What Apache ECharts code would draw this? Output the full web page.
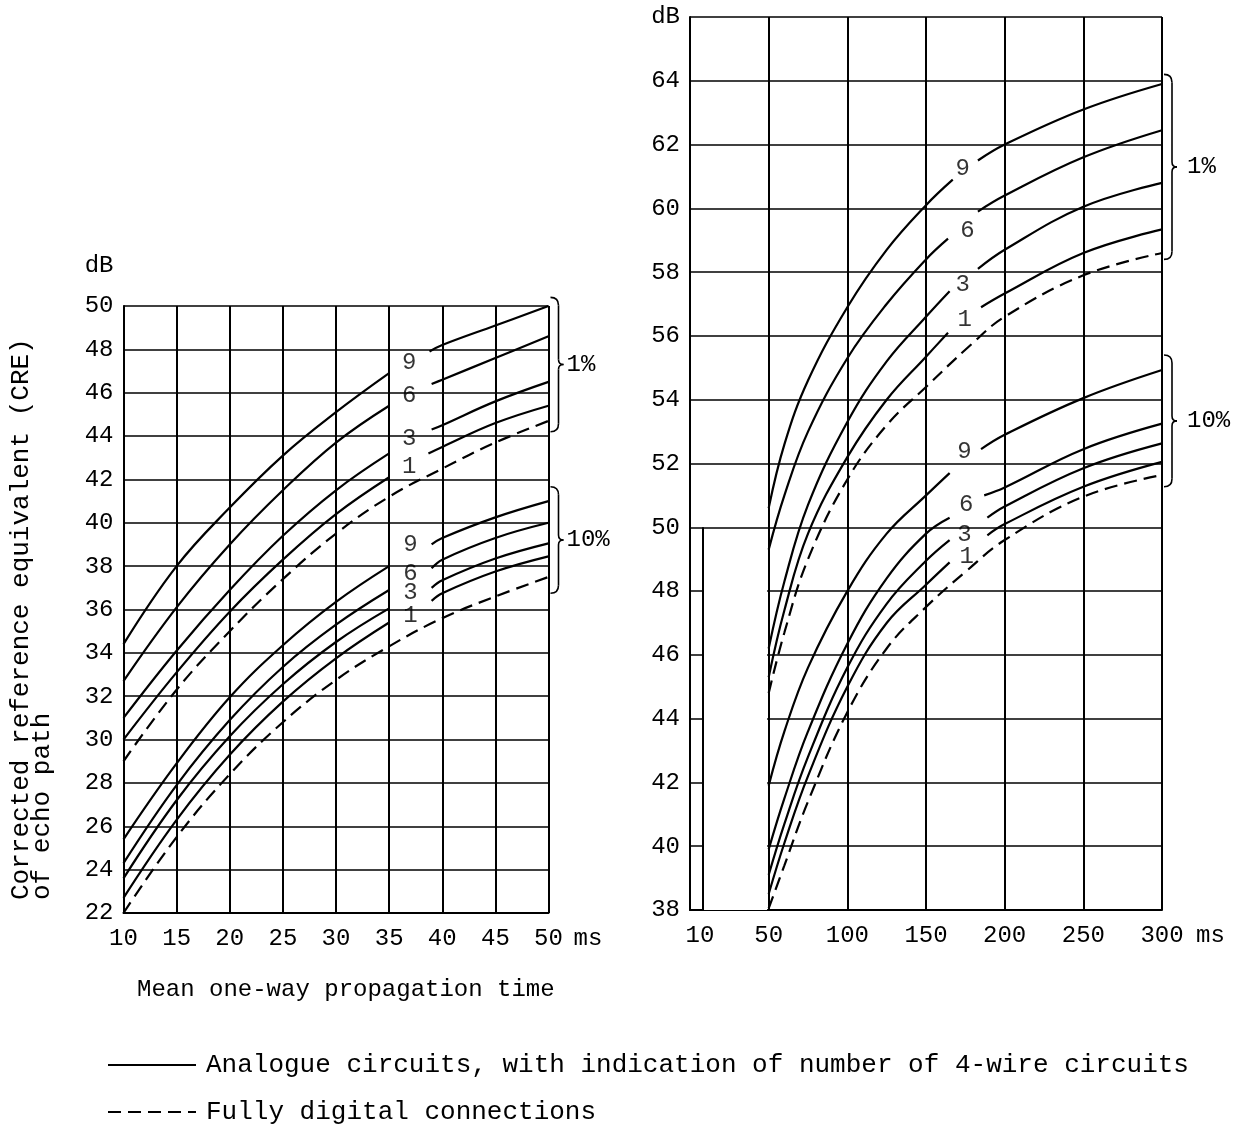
<!DOCTYPE html>
<html>
<head>
<meta charset="utf-8">
<script src="https://cdn.jsdelivr.net/npm/echarts@6/dist/echarts.min.js"></script>
<style>
  html, body { margin: 0; padding: 0; background: #fff; }
  #chart { width: 1243px; height: 1124px; }
</style>
</head>
<body>
<div id="chart"></div>
<script>
var FONT = 'Liberation Mono';
var ANALOG = 'Analogue circuits, with indication of number of 4-wire circuits';
var DIGITAL = 'Fully digital connections';

// ---- left panel (10..50 ms), curves split where the number is written ----
// 1 % group
var l1_9a = [[10,34.4],[15,38.0],[20,40.7],[25,43.1],[30,45.1],[35,46.9]];
var l1_9b = [[38.8,47.9],[40,48.2],[45,49.1],[50,50.0]];
var l1_6a = [[10,32.7],[15,36.1],[20,39.0],[25,41.5],[30,43.7],[35,45.4]];
var l1_6b = [[39,46.4],[40,46.6],[45,47.6],[50,48.6]];
var l1_3a = [[10,31.0],[15,34.1],[20,36.9],[25,39.4],[30,41.5],[35,43.2]];
var l1_3b = [[39,44.3],[40,44.5],[45,45.6],[50,46.5]];
var l1_1a = [[10,30.0],[15,33.1],[20,35.9],[25,38.3],[30,40.4],[35,42.1]];
var l1_1b = [[38.7,43.2],[40,43.5],[45,44.6],[50,45.4]];
var l1_d  = [[10,29.0],[15,32.3],[20,35.0],[25,37.4],[30,39.5],[35,41.2],[40,42.5],[45,43.7],[50,44.7]];
// 10 % group
var l10_9a = [[10,25.4],[15,28.9],[20,31.95],[25,34.35],[30,36.35],[35,38.0]];
var l10_9b = [[39,39.0],[40,39.3],[45,40.25],[50,41.0]];
var l10_6a = [[10,24.3],[15,27.9],[20,30.9],[25,33.35],[30,35.3],[35,36.9]];
var l10_6b = [[39,37.9],[40,38.3],[45,39.3],[50,40.0]];
var l10_3a = [[10,23.6],[15,27.2],[20,30.15],[25,32.55],[30,34.5],[35,36.05]];
var l10_3b = [[39,37.0],[40,37.35],[45,38.35],[50,39.05]];
var l10_1a = [[10,22.7],[15,26.3],[20,29.3],[25,31.75],[30,33.75],[35,35.4]];
var l10_1b = [[39,36.4],[40,36.75],[45,37.75],[50,38.45]];
var l10_d  = [[10,22.0],[15,25.5],[20,28.4],[25,30.8],[30,32.75],[35,34.3],[40,35.6],[45,36.6],[50,37.5]];
var leftNumbers = [[36.9,47.4,'9'],[36.9,45.85,'6'],[36.9,43.9,'3'],[36.9,42.6,'1'],
                   [37,39.0,'9'],[37,37.67,'6'],[37,36.78,'3'],[37,35.7,'1']];

// ---- right panel (50..300 ms) ----
var r1_9a = [[50,50.6],[60,52.6],[75,54.6],[100,56.9],[125,58.7],[150,60.1],[167,60.9]];
var r1_9b = [[183,61.5],[200,62.0],[250,63.1],[300,63.9]];
var r1_6a = [[50,49.3],[60,51.0],[75,53.0],[100,55.3],[125,57.0],[150,58.4],[164,59.05]];
var r1_6b = [[183,59.9],[200,60.4],[250,61.6],[300,62.45]];
var r1_3a = [[50,46.2],[60,48.3],[75,50.7],[100,53.3],[125,55.2],[150,56.6],[165,57.4]];
var r1_3b = [[183,58.1],[200,58.7],[250,60.05],[300,60.8]];
var r1_1a = [[50,45.3],[60,47.4],[75,49.8],[100,52.2],[125,54.0],[150,55.35],[164,56.1]];
var r1_1b = [[185,56.9],[200,57.33],[250,58.6],[300,59.34]];
var r1_d  = [[50,44.8],[60,46.7],[75,49.0],[100,51.5],[125,53.2],[150,54.4],[178,55.7],[200,56.6],[250,57.9],[300,58.6]];
var r10_9a = [[50,41.9],[60,43.6],[75,45.6],[100,48.0],[125,49.8],[150,51.0],[165,51.7]];
var r10_9b = [[185,52.45],[200,52.9],[250,54.05],[300,54.93]];
var r10_6a = [[50,39.9],[60,41.5],[75,43.6],[100,46.35],[125,48.4],[150,49.8],[165,50.3]];
var r10_6b = [[187,51.0],[200,51.25],[250,52.45],[300,53.25]];
var r10_3a = [[50,39.1],[60,40.7],[75,42.8],[100,45.6],[125,47.6],[150,48.95],[165,49.6]];
var r10_3b = [[189,50.3],[200,50.65],[250,51.85],[300,52.63]];
var r10_1a = [[50,38.5],[60,40.1],[75,42.2],[100,45.0],[125,47.0],[150,48.2],[165,48.9]];
var r10_1b = [[189,49.75],[200,50.1],[250,51.27],[300,52.05]];
var r10_d  = [[50,38.05],[60,39.4],[75,41.4],[100,44.2],[125,46.2],[150,47.5],[175,48.6],[200,49.6],[250,50.96],[300,51.64]];
var rightNumbers = [[173.4,61.25,'9'],[176.4,59.3,'6'],[173.3,57.6,'3'],[174.6,56.5,'1'],
                    [174.5,52.37,'9'],[175.6,50.7,'6'],[174.5,49.76,'3'],[175.8,49.07,'1']];

// brace ranges (dB) for the 1 % and 10 % groups
var leftBraces = [[50.4,44.2,'1%'],[41.66,36.75,'10%']];
var rightBraces = [[64.2,58.4,'1%'],[55.4,51.27,'10%']];

var chart = echarts.init(document.getElementById('chart'));

function curve(name, data, gi, dashed) {
	return {
		name: name, type: 'line', xAxisIndex: gi, yAxisIndex: gi,
		data: data, smooth: 0.4, symbol: 'none', color: '#000',
		lineStyle: { color: '#000', width: 2.2, type: dashed ? [13, 7] : 'solid' },
		silent: true
	};
}

function numbers(data, gi) {
	return {
		type: 'scatter', xAxisIndex: gi, yAxisIndex: gi, data: data,
		symbolSize: 0, silent: true,
		label: { show: true, position: 'inside', color: '#000', fontSize: 24, fontFamily: FONT,
			formatter: function (p) { return p.value[2]; } }
	};
}

var series = [];
[l1_9a,l1_9b,l1_6a,l1_6b,l1_3a,l1_3b,l1_1a,l1_1b,l10_9a,l10_9b,l10_6a,l10_6b,l10_3a,l10_3b,l10_1a,l10_1b].forEach(function (d) {
	series.push(curve(ANALOG, d, 0, false));
});
series.push(curve(DIGITAL, l1_d, 0, true));
series.push(curve(DIGITAL, l10_d, 0, true));
[r1_9a,r1_9b,r1_6a,r1_6b,r1_3a,r1_3b,r1_1a,r1_1b,r10_9a,r10_9b,r10_6a,r10_6b,r10_3a,r10_3b,r10_1a,r10_1b].forEach(function (d) {
	series.push(curve(ANALOG, d, 1, false));
});
series.push(curve(DIGITAL, r1_d, 1, true));
series.push(curve(DIGITAL, r10_d, 1, true));
series.push(numbers(leftNumbers, 0));
series.push(numbers(rightNumbers, 1));

// broken axis on the right panel: blank the gap between the "10" strip and 50 ms below 50 dB
series.push({
	type: 'line', xAxisIndex: 1, yAxisIndex: 1, data: [], clip: false, silent: true, z: 5,
	markArea: { silent: true, itemStyle: { color: '#fff' }, data: [[{ coord: [8.3, 37.6] }, { coord: [49, 49.88] }]] }
});
series.push({
	type: 'line', xAxisIndex: 1, yAxisIndex: 1, data: [], clip: false, silent: true, z: 6,
	markLine: { silent: true, symbol: ['none', 'none'], label: { show: false },
		lineStyle: { color: '#000', width: 2, type: 'solid' },
		data: [[{ coord: [8.3, 38] }, { coord: [8.3, 50] }]] }
});

function xAxis(gi, min, max, interval, nameGap, fmt) {
	return {
		type: 'value', gridIndex: gi, min: min, max: max, interval: interval,
		axisLine: { show: true, onZero: false, lineStyle: { color: '#000', width: 2 } },
		axisTick: { show: false },
		axisLabel: { color: '#000', fontSize: 24, fontFamily: FONT, margin: 14, formatter: fmt,
			rich: { s: { fontSize: 24, fontFamily: FONT, color: '#000', padding: [0, 0, 0, 20] } } },
		splitLine: { show: true, lineStyle: { color: '#000', width: 2 } },
		name: 'ms', nameLocation: 'end', nameGap: nameGap,
		nameTextStyle: { color: '#000', fontSize: 24, fontFamily: FONT, verticalAlign: 'top', padding: [14, 0, 0, 0] }
	};
}
function yAxis(gi, min, max, fmt, withName) {
	var a = {
		type: 'value', gridIndex: gi, min: min, max: max, interval: 2,
		axisLine: { show: true, onZero: false, lineStyle: { color: '#000', width: 2 } },
		axisTick: { show: false },
		axisLabel: { color: '#000', fontSize: 24, fontFamily: FONT, margin: 10, formatter: fmt },
		splitLine: { show: true, lineStyle: { color: '#000', width: 1.5 } }
	};
	if (withName) {
		a.name = 'dB';
		a.nameLocation = 'end';
		a.nameGap = 40;
		a.nameTextStyle = { color: '#000', fontSize: 24, fontFamily: FONT, align: 'right', verticalAlign: 'middle', padding: [0, 10, 0, 0] };
	}
	return a;
}

var option = {
	animation: false,
	backgroundColor: '#fff',
	grid: [
		{ left: 123.5, top: 306, width: 425, height: 607 },
		{ left: 690, top: 17, width: 472, height: 893 }
	],
	legend: {
		data: [ANALOG, DIGITAL], orient: 'vertical', left: 107, top: 1052, height: 200, padding: 0,
		itemWidth: 88, itemHeight: 14, itemGap: 21, selectedMode: false,
		itemStyle: { opacity: 0 },
		textStyle: { color: '#000', fontSize: 26, fontFamily: FONT, lineHeight: 26, padding: [0, 0, 0, 5] }
	},
	xAxis: [
		xAxis(0, 10, 50, 5, 25),
		xAxis(1, 0, 300, 50, 34, function (v) { return v === 0 ? '{s|10}' : v; })
	],
	yAxis: [
		yAxis(0, 22, 50, null, true),
		yAxis(1, 38, 66, function (v) { return v === 66 ? 'dB' : v; }, false)
	],
	series: series
};
chart.setOption(option);

// texts, then the braces placed from the axis scales
var graphics = [
	{ type: 'text', x: 21, y: 900, rotation: Math.PI / 2,
	  style: { text: 'Corrected reference equivalent (CRE)', fill: '#000', font: '26px "' + FONT + '"', textAlign: 'left', textVerticalAlign: 'middle' } },
	{ type: 'text', x: 42, y: 900, rotation: Math.PI / 2,
	  style: { text: 'of echo path', fill: '#000', font: '26px "' + FONT + '"', textAlign: 'left', textVerticalAlign: 'middle' } },
	{ type: 'text', x: 137, y: 990,
	  style: { text: 'Mean one-way propagation time', fill: '#000', font: '24px "' + FONT + '"', textAlign: 'left', textVerticalAlign: 'middle' } }
];

var braceStyle = { fill: null, stroke: '#000', lineWidth: 1.6 };
function brace(gi, xEnd, b, textGap) {
	var p1 = chart.convertToPixel({ gridIndex: gi }, [xEnd, b[0]]);
	var p2 = chart.convertToPixel({ gridIndex: gi }, [xEnd, b[1]]);
	var x0 = p1[0] + 2, x1 = x0 + 8, x2 = x1 + 5;
	var top = p1[1], bot = p2[1], mid = (top + bot) / 2;
	graphics.push({ type: 'bezierCurve', shape: { x1: x0, y1: top, cpx1: x1, cpy1: top, x2: x1, y2: top + 8 }, style: braceStyle });
	graphics.push({ type: 'line', shape: { x1: x1, y1: top + 8, x2: x1, y2: mid - 5 }, style: braceStyle });
	graphics.push({ type: 'bezierCurve', shape: { x1: x1, y1: mid - 5, cpx1: x1, cpy1: mid, x2: x2, y2: mid }, style: braceStyle });
	graphics.push({ type: 'bezierCurve', shape: { x1: x2, y1: mid, cpx1: x1, cpy1: mid, x2: x1, y2: mid + 5 }, style: braceStyle });
	graphics.push({ type: 'line', shape: { x1: x1, y1: mid + 5, x2: x1, y2: bot - 8 }, style: braceStyle });
	graphics.push({ type: 'bezierCurve', shape: { x1: x1, y1: bot - 8, cpx1: x1, cpy1: bot, x2: x0, y2: bot }, style: braceStyle });
	graphics.push({ type: 'text', x: x2 + textGap, y: mid,
		style: { text: b[2], fill: '#000', font: '24px "' + FONT + '"', textAlign: 'left', textVerticalAlign: 'middle' } });
}
leftBraces.forEach(function (b) { brace(0, 50, b, 3); });
rightBraces.forEach(function (b) { brace(1, 300, b, 10); });

chart.setOption({ graphic: graphics });
</script>
</body>
</html>
